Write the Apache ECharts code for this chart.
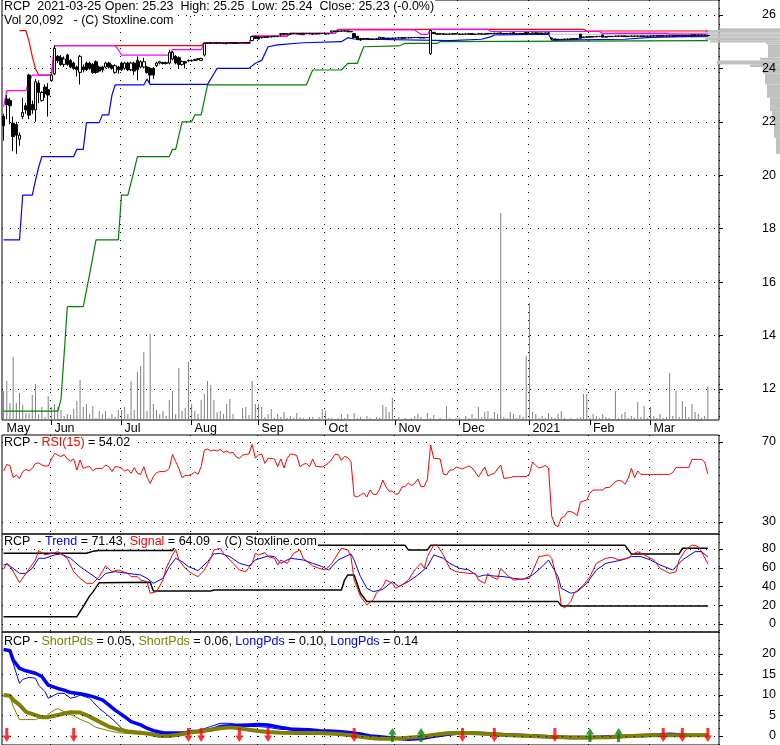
<!DOCTYPE html>
<html><head><meta charset="utf-8">
<script src="https://cdn.jsdelivr.net/npm/echarts@6/dist/echarts.min.js"></script>
<style>html,body{margin:0;padding:0;background:#fff}#c{width:780px;height:745px}</style>
</head><body><div id="c"></div>
<script>
const FONT = 'Liberation Sans, Arial, sans-serif';
const holidays = ['2020-05-25','2020-07-03','2020-09-07','2020-11-26','2020-12-25','2021-01-01','2021-01-18','2021-02-15'];
const monthNames = ['Jan','Feb','Mar','Apr','May','Jun','Jul','Aug','Sep','Oct','Nov','Dec'];
const priceTicks = [12,14,16,18,20,22,24,26];
const rsiTicks = [30,70];
const trendTicks = [0,20,40,60,80];
const pdsTicks = [0,5,10,15,20];

// [open, close, low, high]
const ohlc = [
[22.2,21.85,21.3,22.3],[22.85,22.65,22.1,23.0],[22.8,22.6,21.9,22.9],[21.95,21.45,20.9,22.2],[21.9,21.5,20.8,22.0],
[21.35,21.5,21.1,21.6],[22.2,22.35,22.1,22.9],[22.6,22.45,22.3,22.7],[23.75,22.25,22.1,23.8],[22.65,22.45,22.3,22.8],
[22.45,23.5,22.0,23.6],[23.45,23.1,22.7,23.55],[22.8,23.1,22.75,23.15],[23.3,23.05,22.9,23.4],[23.2,23.0,22.2,23.45],
[23.55,23.75,23.5,23.8],[23.8,24.75,23.75,24.85],[24.45,24.3,24.2,24.5],[24.4,24.15,24.1,24.5],[24.15,24.35,24.05,24.45],
[24.5,24.15,24.1,24.55],[24.3,24.05,24.0,24.35],[24.2,24.0,23.95,24.25],[24.05,23.95,23.7,24.1],[23.85,24.45,23.4,24.5],
[24.05,23.95,23.85,24.15],[24.2,23.95,23.9,24.25],[24.2,24.0,23.95,24.25],[24.15,23.85,23.8,24.2],[24.25,23.85,23.8,24.3],
[24.05,23.9,23.85,24.1],[24.05,23.95,23.85,24.1],[24.05,24.2,24.0,24.25],[24.2,24.05,24.0,24.25],[24.1,24.0,23.95,24.15],
[23.85,24.1,23.8,24.15],[24.05,23.95,23.8,24.1],[24.2,23.95,23.9,24.25],[24.0,24.2,23.95,24.25],[24.2,23.95,23.9,24.25],
[23.95,24.2,23.9,24.25],[24.2,23.9,23.75,24.25],[24.3,23.95,23.55,24.45],[24.05,24.25,24.0,24.3],[24.05,24.25,24.0,24.4],
[24.05,23.85,23.8,24.1],[24.0,23.75,23.45,24.05],[24.0,23.75,23.6,24.05],[24.1,24.2,24.05,24.25],[24.2,24.25,24.15,24.28],
[24.22,24.18,24.15,24.25],[24.18,24.22,24.15,24.25],[24.2,24.6,24.15,24.7],[24.35,24.6,24.3,24.65],[24.45,24.2,24.15,24.5],
[24.4,24.15,24.0,24.45],[24.15,24.25,24.1,24.3],[24.25,24.2,24.0,24.28],[24.28,24.3,24.25,24.33],[24.3,24.28,24.25,24.33],
[24.33,24.3,24.28,24.36],[24.34,24.36,24.3,24.38],[24.3,24.37,24.28,24.4],[24.5,24.94,24.45,24.97],[24.94,24.96,24.92,24.97],
[24.96,24.94,24.93,24.97],[24.95,24.95,24.93,24.97],[24.94,24.96,24.93,24.97],[24.96,24.95,24.94,24.97],[24.95,24.93,24.92,24.96],
[24.92,24.97,24.91,24.98],[24.96,24.95,24.94,24.97],[24.95,24.96,24.94,24.97],[24.96,24.94,24.93,24.97],[24.94,24.95,24.92,24.96],
[24.95,24.97,24.94,24.98],[24.97,24.95,24.94,24.98],[24.95,24.96,24.94,24.97],[25.04,25.19,25.02,25.21],[25.2,25.12,25.1,25.22],
[25.18,25.1,25.08,25.2],[25.15,25.17,25.12,25.19],[25.18,25.16,25.14,25.2],[25.17,25.18,25.15,25.2],[25.18,25.2,25.16,25.21],
[25.2,25.19,25.17,25.21],[25.19,25.2,25.17,25.22],[25.28,25.3,25.2,25.32],[25.3,25.28,25.26,25.31],[25.28,25.3,25.27,25.31],
[25.27,25.31,25.26,25.32],[25.31,25.29,25.28,25.32],[25.29,25.3,25.28,25.31],[25.3,25.28,25.27,25.31],[25.26,25.31,25.25,25.32],
[25.3,25.3,25.29,25.31],[25.31,25.29,25.28,25.32],[25.27,25.31,25.26,25.32],[25.3,25.29,25.28,25.31],[25.29,25.31,25.28,25.32],
[25.31,25.3,25.29,25.32],[25.3,25.28,25.27,25.31],[25.29,25.31,25.28,25.32],[25.36,25.4,25.35,25.41],[25.4,25.38,25.37,25.41],
[25.38,25.4,25.37,25.41],[25.4,25.39,25.38,25.42],[25.39,25.41,25.38,25.42],[25.4,25.37,25.36,25.41],[25.37,25.38,25.36,25.4],
[25.3,25.15,25.12,25.32],[25.2,25.08,25.05,25.22],[25.12,25.06,25.03,25.14],[25.08,25.12,25.07,25.13],[25.12,25.1,25.09,25.13],
[25.1,25.08,25.07,25.11],[25.08,25.1,25.07,25.11],[25.1,25.11,25.09,25.12],[25.1,25.17,25.09,25.18],[25.15,25.12,25.11,25.16],
[25.12,25.13,25.11,25.14],[25.13,25.11,25.1,25.14],[25.11,25.14,25.1,25.15],[25.14,25.13,25.12,25.15],[25.13,25.15,25.12,25.16],
[25.15,25.13,25.12,25.16],[25.13,25.15,25.12,25.16],[25.15,25.14,25.13,25.16],[25.14,25.16,25.13,25.17],[25.16,25.15,25.14,25.17],
[25.15,25.16,25.14,25.17],[25.16,25.14,25.13,25.17],[25.14,25.16,25.13,25.17],[25.16,25.15,25.14,25.17],[24.55,25.42,24.5,25.45],
[25.35,25.3,25.29,25.36],[25.3,25.28,25.27,25.31],[25.28,25.3,25.27,25.31],[25.3,25.27,25.26,25.31],[25.27,25.29,25.26,25.3],
[25.29,25.28,25.27,25.3],[25.28,25.3,25.27,25.31],[25.3,25.29,25.28,25.31],[25.29,25.27,25.26,25.3],[25.27,25.29,25.26,25.3],
[25.29,25.28,25.27,25.3],[25.28,25.3,25.27,25.31],[25.3,25.27,25.26,25.31],[25.27,25.28,25.26,25.29],[25.28,25.3,25.27,25.31],
[25.3,25.28,25.27,25.31],[25.28,25.29,25.27,25.3],[25.29,25.31,25.28,25.32],[25.31,25.3,25.29,25.32],[25.3,25.32,25.29,25.33],
[25.32,25.3,25.29,25.33],[25.33,25.29,25.28,25.34],[25.29,25.31,25.28,25.32],[25.31,25.3,25.29,25.32],[25.3,25.32,25.29,25.33],
[25.34,25.29,25.28,25.35],[25.29,25.31,25.28,25.32],[25.31,25.3,25.29,25.32],[25.3,25.31,25.29,25.32],[25.34,25.29,25.28,25.35],
[25.3,25.31,25.29,25.33],[25.31,25.33,25.3,25.34],[25.33,25.31,25.3,25.34],[25.31,25.32,25.3,25.33],[25.32,25.31,25.3,25.33],
[25.31,25.33,25.3,25.34],[25.33,25.31,25.3,25.34],[25.14,25.1,25.08,25.15],[25.1,25.07,25.06,25.11],[25.07,25.09,25.06,25.1],
[25.09,25.08,25.07,25.1],[25.08,25.1,25.07,25.11],[25.1,25.09,25.08,25.11],[25.09,25.11,25.08,25.12],[25.11,25.1,25.09,25.12],
[25.1,25.12,25.09,25.13],[25.28,25.13,25.12,25.29],[25.15,25.18,25.14,25.19],[25.18,25.17,25.16,25.19],[25.17,25.19,25.16,25.2],
[25.19,25.18,25.17,25.2],[25.18,25.2,25.17,25.21],[25.2,25.19,25.18,25.21],[25.25,25.17,25.16,25.26],[25.17,25.19,25.16,25.2],
[25.19,25.2,25.18,25.21],[25.2,25.19,25.18,25.21],[25.19,25.21,25.18,25.22],[25.21,25.2,25.19,25.22],[25.2,25.21,25.19,25.22],
[25.21,25.19,25.18,25.22],[25.19,25.2,25.18,25.21],[25.2,25.21,25.19,25.22],[25.21,25.2,25.19,25.22],[25.2,25.21,25.19,25.22],
[25.21,25.2,25.19,25.22],[25.2,25.21,25.19,25.22],[25.21,25.2,25.19,25.22],[25.2,25.22,25.19,25.23],[25.22,25.21,25.2,25.23],
[25.21,25.22,25.2,25.23],[25.22,25.21,25.2,25.23],[25.21,25.22,25.2,25.23],[25.22,25.21,25.2,25.23],[25.21,25.22,25.2,25.23],
[25.22,25.21,25.2,25.23],[25.21,25.23,25.2,25.24],[25.23,25.22,25.21,25.24],[25.22,25.23,25.21,25.24],[25.23,25.22,25.21,25.24],
[25.22,25.23,25.21,25.24],[25.23,25.25,25.22,25.26],[25.25,25.24,25.23,25.26],[25.24,25.25,25.23,25.26],[25.25,25.24,25.23,25.26],
[25.24,25.24,25.23,25.25],[25.23,25.23,25.22,25.25]
];

// volume, thousands of shares
const volumeK = [
17.4,23.4,10.2,37.8,10.2,16.2,9.0,4.2,4.2,15.0,
21.6,3.6,7.8,1.8,14.4,7.8,9.6,7.8,6.0,2.4,
3.6,3.0,6.6,11.4,24.0,7.8,9.6,3.6,8.4,1.2,
5.4,3.6,5.4,1.2,3.6,1.8,6.0,6.0,7.8,3.6,
23.4,6.0,28.8,32.4,40.8,5.4,51.6,9.6,6.0,3.6,
5.4,2.4,12.0,17.4,3.6,31.2,5.4,7.2,34.8,9.6,
5.4,3.6,12.0,15.6,23.4,21.0,12.0,4.8,5.4,3.6,
9.6,12.6,3.6,0.6,0.6,7.2,7.8,3.0,23.4,9.6,
9.6,7.8,1.8,3.6,6.6,1.2,3.6,1.8,4.8,1.2,
2.4,1.2,4.2,1.8,1.2,0.6,1.8,1.8,0.6,1.8,
6.6,5.4,1.2,1.2,0.6,1.2,3.6,1.2,3.6,0.6,
4.2,1.2,1.8,0.6,2.4,1.2,0.6,1.8,1.2,9.0,
7.8,4.8,13.2,0.6,1.8,0.6,1.2,0.6,1.2,2.4,
3.6,1.8,0.6,4.2,1.2,3.0,0.6,1.2,0.6,8.4,
1.2,0.6,1.2,1.2,0.6,2.4,1.2,3.6,1.2,7.8,
1.8,4.8,5.4,1.2,4.8,3.6,124.2,1.8,1.2,4.8,
3.6,1.2,3.0,1.8,38.4,70.2,4.8,3.6,1.2,2.4,
1.2,4.2,1.8,1.2,3.6,5.4,1.2,0.6,1.2,0.6,
1.2,1.8,15.6,15.6,1.2,3.6,2.4,1.2,3.6,1.8,
1.2,0.6,17.4,1.2,3.6,4.8,1.2,2.4,1.2,10.8,
1.8,8.4,1.2,7.8,2.4,1.2,3.6,1.2,1.8,28.2,
2.4,17.4,1.8,11.4,7.8,1.8,9.6,4.8,3.6,1.2,
2.4,20.1
];

const rsi15 = [
55.5,58.8,58.2,52.2,53.5,51.8,55.2,56.3,55.5,56.8,
59.3,59.5,58.5,58,58,61.5,64.3,63.5,62.7,63.8,
61.5,60.5,61.5,56,61,56.8,57.5,57.7,55.7,56.8,
56.8,56.8,58.5,57.7,55.2,57.7,57.5,56.8,55.5,56.3,
54.3,57.2,54.3,53.8,57.7,52.5,49.3,52.7,54.7,55.2,
55.2,55.5,56.8,63.8,60.2,56.8,52.2,53.3,53.3,53.8,
55,53.8,57.7,66,66.5,65.5,66,65.5,66.3,64.8,
65.5,64.5,64.8,62.5,61.8,63.5,63.8,64,68.8,62,
63.5,64,59.3,61.8,61.8,61.5,57.7,61.5,57,61.8,
64,63.8,63.2,57.7,58.8,59.3,57.7,61.5,57.8,57.7,
57.5,58.5,59.5,61.5,63.8,63.8,60.8,62.8,62.2,60.2,
43,42.5,43.5,44.5,42.5,46,43.8,43.8,46.5,51,
47.5,45.3,45.5,43.8,44.3,47.5,47.7,49.5,48.2,49.3,
51.5,47.7,47.7,51.5,68.5,61.8,61.8,61.5,54,53.5,
56,56,57.5,57,56.5,57.3,58,57,55,52.5,
55,57.5,53,53.8,54.3,56.5,58.5,51.8,52,52.2,
52.7,52.7,52.7,52.7,52.7,54,60,58.2,57,57.5,
58.3,57,33,28.5,27.7,32,32.8,35.2,35.2,34.5,
33.2,40,40.5,41,44.5,46,46,46,46,47.3,
47.2,48.5,50.2,50.8,50.5,48.8,51.8,56.8,52.2,55.5,
53.8,53.8,53.8,53.8,53.8,53.8,53.8,53.8,53.8,53.8,
54.8,57.2,57.2,57.2,57.2,57.2,61.3,61.3,61.3,61.3,
60,54
];

// main panel stop lines: [dayIndex, price]
const redLine = [[5,25.41],[7,25.41],[8,25.0],[9,24.45],[10,24.0],[11,23.75],[15,23.75],[16,24.85],[62,24.85],[63,24.96],[77,24.96],[78,25.21],[89,25.21],[90,25.31],[104,25.31],[105,25.46],[182,25.46],[183,25.4],[221,25.4]];
const magentaLine = [[0,22.57],[1,23.17],[7,23.17],[8,23.5],[9,23.75],[15,23.75],[16,24.85],[35,24.85],[36,24.7],[37,24.5],[52,24.5],[53,24.7],[62,24.7],[63,24.94],[77,24.94],[78,25.21],[89,25.21],[90,25.31],[104,25.31],[105,25.44],[129,25.44],[130,25.35],[131,25.27],[133,25.27],[134,25.46],[152,25.46],[153,25.38],[187,25.38],[188,25.31],[208,25.31],[209,25.28],[221,25.28]];
const blueLine = [[0,17.58],[5,17.58],[6,19.26],[9,19.26],[10,19.8],[11,20.3],[12,20.7],[22,20.7],[23,20.97],[25,20.97],[26,21.97],[30,21.97],[31,22.26],[33,22.26],[34,23.0],[35,23.38],[44,23.38],[45,23.6],[46,23.4],[64,23.4],[66,23.8],[67,24.0],[77,24.0],[79,24.19],[81,24.3],[83,24.81],[86,24.88],[94,24.96],[106,25.0],[108,25.15],[110,25.1],[140,25.04],[150,25.09],[153,25.19],[154,25.25],[171,25.28],[172,25.06],[195,25.09],[203,25.16],[221,25.21]];
const greenLine = [[0,11.17],[17,11.17],[18,11.6],[19,13.3],[20,15.08],[25,15.08],[27,16.3],[29,17.58],[36,17.58],[37,19.26],[39,19.26],[41,20.2],[42,20.7],[52,20.7],[53,20.97],[54,20.97],[56,22.0],[59,22.0],[60,22.26],[62,22.26],[64,23.38],[95,23.38],[97,23.94],[106,23.94],[108,24.19],[111,24.19],[113,24.81],[124,24.84],[126,24.94],[136,24.94],[137,25.0],[221,25.04]];

// volume at price: [low, high, width]
const profileLow = [25.44,25.35,25.30,25.26,25.20,25.15,25.05,24.97,24.90,24.40,24.30,24.15,24.05,23.80,23.40,22.90,22.40,22.00,21.40,20.80];
const profileHigh = [25.50,25.44,25.35,25.30,25.26,25.20,25.15,25.05,24.97,24.90,24.40,24.30,24.15,24.05,23.80,23.40,22.90,22.40,22.00,21.40];
const profileWidth = [60,75,165,340,165,90,75,70,14,12,20,63,30,17,15,13,10,8,6,4];

// trend panel
const signalLine = [[0,58.3],[1,64.7],[2,62],[5,44.1],[7,54],[10,68.3],[11,78.3],[13,73.7],[16,76.1],[17,77.2],[20,70.1],[22,55.8],[24,48.7],[26,43.4],[28,43.4],[30,50.5],[32,61.9],[34,55.8],[36,57.6],[39,54],[40,50.5],[42,50.5],[43,46.9],[45,45.2],[46,32.8],[48,34.5],[50,46.9],[51,59.4],[53,73.7],[54,79.6],[55,68.3],[57,59.4],[59,54],[61,50.5],[63,57.6],[65,70.1],[66,79],[68,80.7],[69,75.4],[72,64.7],[74,57.6],[76,55.8],[78,64.7],[79,75.4],[80,73.7],[82,76.1],[83,71.9],[85,70.1],[86,62.9],[87,68.3],[89,64.7],[91,75.4],[93,79],[94,70.1],[97,61.9],[99,59.4],[101,57.6],[103,64.7],[105,75.4],[106,80.7],[108,79],[109,71.9],[110,46.9],[112,29.3],[114,20.4],[116,25.8],[117,32.8],[119,39.9],[120,46.9],[122,43.4],[123,38.1],[125,41.6],[127,46.9],[129,57.6],[131,64.7],[132,59.4],[133,71.9],[135,84.3],[136,84.3],[138,73.7],[140,59.4],[142,55.8],[144,54.8],[146,54],[148,54],[149,46.9],[151,43.4],[152,54],[153,50.5],[155,47.6],[156,59.4],[158,52.3],[160,46.9],[162,47.6],[165,48.7],[168,71.9],[171,73.7],[172,70.1],[174,43.4],[175,20.4],[176,16.9],[178,24],[179,32.8],[182,41.6],[184,50.5],[186,64.7],[189,70.1],[191,71.2],[193,68.3],[196,70.1],[197,73.7],[199,77.2],[201,73.7],[204,68.3],[206,59.4],[209,54],[211,55.8],[212,68.3],[214,79],[216,84.3],[218,82.6],[219,77.2],[221,64.1]];
const trendLine = [[0,63],[1,63.7],[3,59.4],[5,54],[7,54],[9,59.4],[11,70.1],[13,70.1],[16,73.7],[18,74.8],[21,70.1],[24,61.2],[27,54],[30,46.9],[32,54],[35,55.8],[39,54],[43,52.3],[45,48.7],[47,43.4],[50,48.7],[52,61.2],[54,70.1],[56,66.5],[58,61.2],[61,56.9],[64,66.5],[66,74.8],[68,75.4],[71,71.9],[74,64.7],[77,61.9],[79,68.3],[83,72.6],[85,71.9],[87,64.7],[90,70.1],[94,68.3],[97,64.7],[100,61.2],[102,57.6],[105,68.3],[109,74.8],[110,68.3],[112,50.5],[114,38.1],[116,34.5],[119,37],[122,45.2],[124,39.9],[127,45.2],[130,52.3],[133,61.2],[135,73.7],[138,70.1],[140,64.7],[143,59.4],[146,57.6],[149,50.5],[151,52.3],[154,51.2],[157,50.5],[160,48.7],[163,47.6],[166,52.3],[169,61.2],[171,68.3],[174,50.5],[175,38.1],[178,32.8],[180,34.5],[183,43.4],[186,57.6],[189,64.7],[194,68.3],[197,71.9],[200,71.9],[203,68.3],[206,63],[210,57.6],[213,68.3],[217,77.2],[219,77.2],[221,71.4]];
const trendUpper = [[0,75.4],[26,75.4],[28,77.5],[30,78.3],[53,78.3],[54,83.9],[126,83.9],[127,79],[133,79],[134,83.9],[195,83.9],[197,74.8],[212,74.8],[213,80.7],[221,80.7]];
const trendLower = [[0,7.8],[23,7.8],[25,18.5],[27,30],[28,34],[30,44.1],[46,44.5],[47,35.2],[65,35.2],[66,36.3],[106,36.3],[107,46.9],[108,52.3],[110,52.3],[112,32.8],[114,23.9],[174,23.9],[175,19.3],[221,19.3]];

// bottom panel
const longPdsThick = [[0,21.1],[2,20.8],[3,18.5],[5,16.5],[7,15.9],[10,15.3],[12,14.5],[14,12.4],[17,11.6],[19,11.2],[21,10.6],[24,10.3],[26,10],[28,9.6],[31,8.8],[33,7.6],[35,6.3],[38,4.7],[40,3.5],[43,2.7],[45,1.9],[47,1.3],[50,0.8],[52,0.7],[54,0.7],[57,0.8],[59,1.1],[61,1.1],[65,1.5],[68,2.3],[71,2.5],[74,2.6],[77,2.7],[80,2.8],[83,2.7],[87,2.1],[90,1.7],[93,1.6],[96,1.5],[99,1.3],[102,1.2],[105,1.1],[109,0.8],[112,0.5],[115,0],[118,-0.2],[121,-0.4],[124,-0.6],[127,-0.8],[131,-0.6],[134,-0.2],[137,0.2],[140,0.5],[143,0.7],[148,0.7],[153,0.5],[157,0.3],[162,0.2],[167,0],[171,-0.2],[178,-0.4],[184,-0.4],[190,-0.2],[197,0],[203,0.2],[209,0.4],[215,0.2],[221,0.2]];
const shortPdsThick = [[0,10],[2,9.8],[3,8.8],[5,7.6],[7,5.9],[10,5.1],[12,4.6],[14,4.6],[17,5.1],[19,5.5],[21,5.8],[24,5.7],[26,5.1],[28,4.3],[31,3.1],[33,2.3],[36,1.6],[39,1.1],[43,0.8],[46,0.5],[49,0],[52,0],[55,0.3],[58,0.8],[61,1.1],[65,1.5],[68,1.9],[71,2.1],[74,1.9],[77,1.5],[80,1.2],[83,1.0],[87,0.8],[93,0.7],[99,0.7],[105,0.5],[109,0.2],[112,-0.2],[115,-0.5],[118,-0.7],[121,-0.7],[124,-0.6],[127,-0.4],[131,-0.2],[134,0.2],[137,0.5],[140,0.7],[146,0.7],[153,0.5],[159,0.2],[165,0],[171,-0.2],[178,-0.4],[184,-0.4],[190,-0.3],[197,0],[203,0.2],[209,0.2],[221,0.2]];
const longPdsThin = [[0,21],[2,20.8],[3,17.7],[5,12.8],[6,13.8],[8,14.3],[10,14.1],[11,12.4],[13,10.8],[14,9.2],[16,10],[17,10.4],[19,10.4],[21,9.2],[23,9.6],[24,10],[27,9.2],[28,8.4],[30,6.7],[32,5.5],[35,3.5],[37,1.9],[39,1.1],[43,0.8],[46,0.6],[50,0.8],[55,0.8],[61,1.3],[65,2.3],[68,3.1],[71,3.1],[74,2.7],[77,2.3],[80,2.3],[83,2.1],[87,1.6],[93,1.5],[96,1.5]];
const shortPdsThin = [[0,10],[2,9.8],[3,7.2],[5,4],[7,4],[10,4],[11,4.3],[13,4.6],[15,5.9],[17,6.7],[18,6.3],[20,5.5],[22,4.9],[24,4.1],[27,3.1],[29,2.1],[32,1.5],[34,1.1],[36,0.8],[39,0.6],[46,0.3],[52,0.2],[58,0.8],[65,1.5],[68,2.3],[71,2.7],[74,2.2],[77,1.5],[83,1.0],[87,0.8]];
const sellSignals = [1,22,58,62,74,83,110,144,154,173,207,213,221];
const buySignals = [122,131,184,193];
const signalLevel = 0.24;

// ---- trading-day categories ----
function tradingDays() {
  const hol = new Set(holidays), out = [];
  let t = Date.UTC(2020, 4, 8);
  const end = Date.UTC(2021, 2, 25);
  while (t <= end) {
    const d = new Date(t), wd = d.getUTCDay(), s = d.toISOString().slice(0, 10);
    if (wd !== 0 && wd !== 6 && !hol.has(s)) out.push(s);
    t += 86400000;
  }
  return out;
}
const dates = tradingDays();
const cats = dates.concat(['', '', '']);
const monthStart = new Set();
dates.forEach((s, i) => { if (i === 0 || s.slice(5, 7) !== dates[i - 1].slice(5, 7)) monthStart.add(i); });
const isLabel = (i) => monthStart.has(i);
const isTick = (i) => i > 0 && monthStart.has(i);
const monthLabel = (s) => { if (!s) return ''; const m = +s.slice(5, 7); return m === 1 ? s.slice(0, 4) : monthNames[m - 1]; };

const dotted = { type: [1, 7], color: '#000', width: 1 };
const L = 2, W = 717;
const grids = [
  { left: L, width: W, top: 0, height: 420 },
  { left: L, width: W, top: 0, height: 415.7 },
  { left: L, width: W, top: 435, height: 99 },
  { left: L, width: W, top: 534, height: 98 },
  { left: L, width: W, top: 632, height: 113 },
  { left: 0, width: 780, top: 0, height: 415.7 }
].map((g, i) => Object.assign({ show: i !== 1 && i !== 5, borderColor: '#000', borderWidth: 1, backgroundColor: 'transparent', containLabel: false }, g));

function hiddenCat(gi, split) {
  return { type: 'category', gridIndex: gi, data: cats, boundaryGap: true,
    axisLine: { show: false }, axisTick: { show: false }, axisLabel: { show: false },
    splitLine: { show: split, interval: (i) => isTick(i), lineStyle: dotted } };
}
const xAxes = [
  { type: 'category', gridIndex: 0, data: cats, boundaryGap: true,
    axisLine: { show: false },
    axisTick: { show: true, interval: (i) => isTick(i), alignWithLabel: true, length: 5, lineStyle: { color: '#000' } },
    axisLabel: { show: true, interval: (i) => isLabel(i), formatter: (v) => monthLabel(v), align: 'left', padding: [0, 0, 0, 3], margin: 2,
      color: '#000', fontSize: 12.5, fontFamily: FONT },
    splitLine: { show: true, interval: (i) => isTick(i), lineStyle: dotted } },
  hiddenCat(1, false), hiddenCat(2, true), hiddenCat(3, true), hiddenCat(4, true),
  { type: 'value', gridIndex: 5, min: 0, max: 780, inverse: true, show: false }
];
const rightTick = (vals) => ({ show: true, customValues: vals, length: 4, lineStyle: { color: '#000' } });
const rightLabel = (vals) => ({ show: true, customValues: vals, align: 'right', margin: 57, color: '#000', fontSize: 12.5, fontFamily: FONT });
const yAxes = [
  { type: 'value', gridIndex: 0, min: 0, max: 252, show: false },
  { type: 'value', gridIndex: 1, position: 'right', min: 11, max: 26.56, interval: 1,
    axisLine: { show: false }, axisTick: rightTick(priceTicks),
    axisLabel: { show: true, align: 'right', margin: 57, color: '#000', fontSize: 12.5, fontFamily: FONT,
      formatter: (v) => (priceTicks.indexOf(Math.round(v * 100) / 100) >= 0 ? String(Math.round(v)) : '') },
    splitLine: { show: true, lineStyle: dotted } },
  { type: 'value', gridIndex: 2, position: 'right', min: 24, max: 73.5, axisLine: { show: false }, axisTick: rightTick(rsiTicks), axisLabel: rightLabel(rsiTicks), splitLine: { show: false } },
  { type: 'value', gridIndex: 3, position: 'right', min: -8.53, max: 96, axisLine: { show: false }, axisTick: rightTick(trendTicks), axisLabel: rightLabel(trendTicks), splitLine: { show: false } },
  { type: 'value', gridIndex: 4, position: 'right', min: -2.2, max: 25.37, axisLine: { show: false }, axisTick: rightTick(pdsTicks), axisLabel: rightLabel(pdsTicks), splitLine: { show: false } },
  { type: 'value', gridIndex: 5, min: 11, max: 26.56, show: false }
];

function line(data, xi, color, width, z) {
  return { type: 'line', xAxisIndex: xi, yAxisIndex: xi, data: data, symbol: 'none', z: z || 3,
    lineStyle: { color: color, width: width }, silent: true, animation: false };
}
function hLines(vals) {
  return { silent: true, symbol: ['none', 'none'], label: { show: false }, lineStyle: dotted,
    emphasis: { disabled: true }, animation: false, data: vals.map((v) => ({ yAxis: v })) };
}
const downArrow = 'path://M2.5,0 L5.5,0 L5.5,7 L8,7 L4,13 L0,7 L2.5,7 Z';
const upArrow = 'path://M4,0 L8,6 L5.5,6 L5.5,13 L2.5,13 L2.5,6 L0,6 Z';

const profileData = profileLow.map((lo, i) => [lo, profileHigh[i], profileWidth[i]]);

const series = [
  { type: 'bar', xAxisIndex: 0, yAxisIndex: 0, data: volumeK, barWidth: 1, itemStyle: { color: '#808080' }, z: 1, silent: true },
  { type: 'custom', xAxisIndex: 5, yAxisIndex: 5, data: profileData, z: 0, silent: true,
    renderItem: function (params, api) {
      const lo = api.value(0), hi = api.value(1), w = api.value(2);
      const a = api.coord([w, hi]), b = api.coord([0, lo]);
      return { type: 'rect', shape: { x: a[0], y: a[1], width: b[0] - a[0], height: b[1] - a[1] }, style: { fill: '#c0c0c0' } };
    } },
  line(greenLine, 1, '#008000', 1.2),
  line(blueLine, 1, '#0000ff', 1.2),
  line(redLine, 1, '#ff0000', 1.2),
  line(magentaLine, 1, '#ff00ff', 1.2),
  { type: 'candlestick', xAxisIndex: 1, yAxisIndex: 1, data: ohlc, barWidth: 3, z: 5, silent: true,
    itemStyle: { color: '#ffffff', color0: '#000000', borderColor: '#000000', borderColor0: '#000000', borderColorDoji: '#000000', borderWidth: 1 } },
  Object.assign(line(rsi15, 2, '#ff0000', 1), { markLine: hLines([30, 70]) }),
  Object.assign(line(trendLower, 3, '#000000', 1.5), { markLine: hLines(trendTicks) }),
  line(trendUpper, 3, '#000000', 1.5),
  line(trendLine, 3, '#0000ff', 1),
  line(signalLine, 3, '#ff0000', 1),
  Object.assign(line(longPdsThin, 4, '#0000ff', 1), { markLine: hLines(pdsTicks) }),
  line(shortPdsThin, 4, '#808000', 1),
  line(longPdsThick, 4, '#0000ff', 3.5),
  line(shortPdsThick, 4, '#808000', 4),
  { type: 'scatter', xAxisIndex: 4, yAxisIndex: 4, data: sellSignals.map((i) => [i, signalLevel]), symbol: downArrow, symbolSize: [8, 14], itemStyle: { color: '#ff0000' }, z: 6, silent: true },
  { type: 'scatter', xAxisIndex: 4, yAxisIndex: 4, data: buySignals.map((i) => [i, signalLevel]), symbol: upArrow, symbolSize: [8, 14], itemStyle: { color: '#008000' }, z: 6, silent: true }
];

const ts = { fontSize: 12.5, fontWeight: 'normal', color: '#000', fontFamily: FONT };
function rich(extra) { const r = { k: { color: '#000' } }; Object.keys(extra).forEach((k) => { r[k] = { color: extra[k] }; });
  Object.keys(r).forEach((k) => { r[k].fontSize = 12.5; r[k].fontFamily = FONT; }); return r; }
const titles = [
  { left: 3, top: 0, text: 'RCP  2021-03-25 Open: 25.23  High: 25.25  Low: 25.24  Close: 25.23 (-0.0%)', textStyle: ts, padding: [0, 1], backgroundColor: '#fff' },
  { left: 3, top: 14, text: 'Vol 20,092   - (C) Stoxline.com', textStyle: ts, padding: [0, 1], backgroundColor: '#fff' },
  { left: 3, top: 436, text: '{k|RCP - }{r|RSI(15)}{k| = 54.02}', textStyle: Object.assign({}, ts, { rich: rich({ r: '#ff0000' }) }), padding: [0, 1], backgroundColor: '#fff' },
  { left: 3, top: 535, text: '{k|RCP  - }{b|Trend}{k| = 71.43, }{r|Signal}{k| = 64.09  - (C) Stoxline.com}', textStyle: Object.assign({}, ts, { rich: rich({ b: '#0000ff', r: '#ff0000' }) }), padding: [0, 1], backgroundColor: '#fff' },
  { left: 3, top: 635, text: '{k|RCP - }{o|ShortPds}{k| = 0.05, }{o|ShortPds}{k| = 0.06, }{b|LongPds}{k| = 0.10, }{b|LongPds}{k| = 0.14}', textStyle: Object.assign({}, ts, { rich: rich({ o: '#808000', b: '#0000ff' }) }), padding: [0, 1], backgroundColor: '#fff' }
];

const chart = echarts.init(document.getElementById('c'), null, { renderer: 'canvas', width: 780, height: 745 });
chart.setOption({
  backgroundColor: '#fff', animation: false, textStyle: { fontFamily: FONT },
  title: titles, grid: grids, xAxis: xAxes, yAxis: yAxes, series: series
});
</script></body></html>
